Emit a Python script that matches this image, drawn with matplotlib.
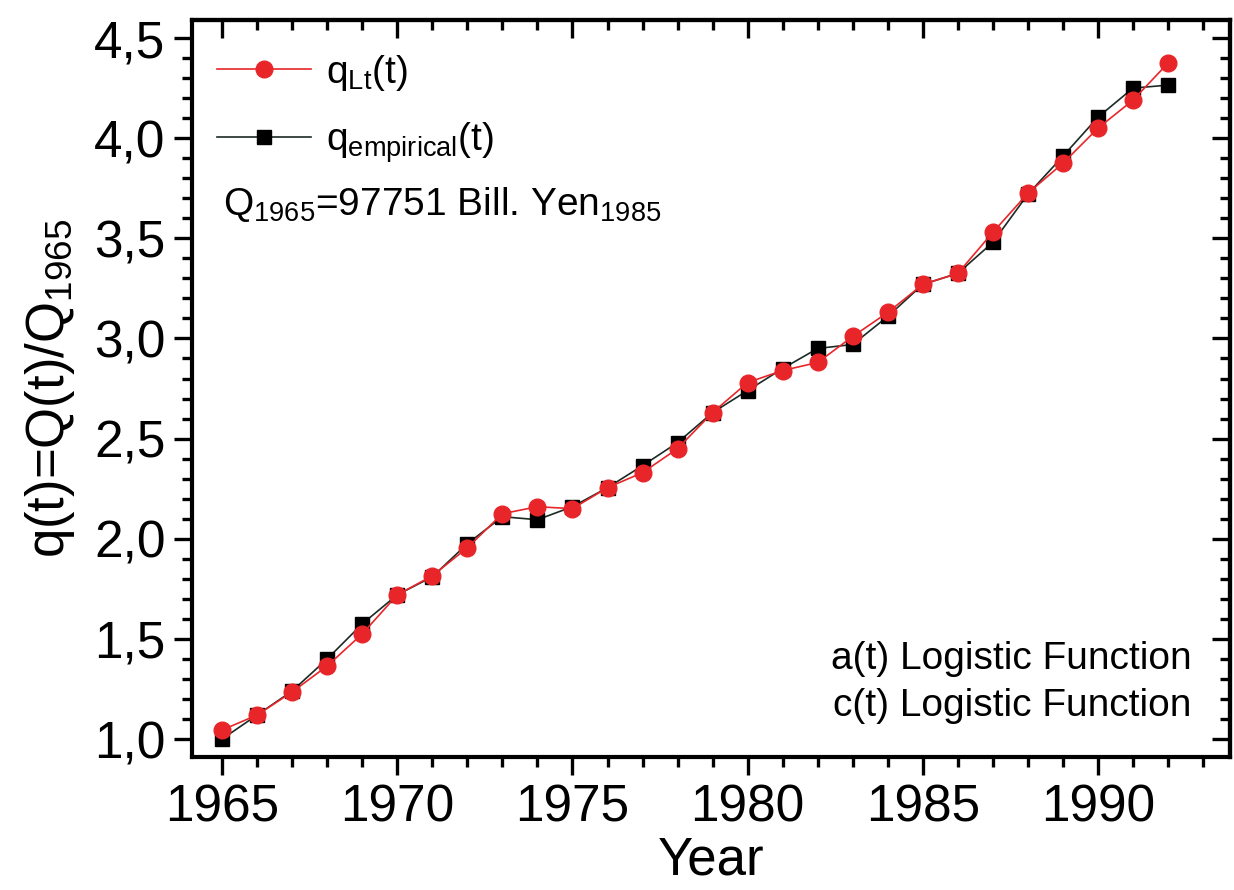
import numpy as np
import matplotlib
matplotlib.use("Agg")
from matplotlib import pyplot as plt
from matplotlib.ticker import MultipleLocator

plt.rcParams['font.family'] = ['Liberation Sans', 'DejaVu Sans']
plt.rcParams['mathtext.fontset'] = 'custom'
plt.rcParams['mathtext.rm'] = 'Liberation Sans'
plt.rcParams['mathtext.it'] = 'Liberation Sans'

# data
years = list(range(1965, 1993))
q_lt = [1.045, 1.12, 1.235, 1.365, 1.525, 1.72, 1.815, 1.955, 2.125, 2.16,
        2.15, 2.255, 2.33, 2.45, 2.63, 2.78, 2.84, 2.88, 3.01, 3.13,
        3.27, 3.325, 3.53, 3.725, 3.875, 4.05, 4.19, 4.375]
q_emp = [1.00, 1.12, 1.24, 1.40, 1.575, 1.72, 1.81, 1.975, 2.11, 2.095,
         2.16, 2.255, 2.365, 2.48, 2.63, 2.74, 2.85, 2.95, 2.97, 3.11,
         3.27, 3.325, 3.48, 3.72, 3.91, 4.105, 4.25, 4.265]
xticks = [1965, 1970, 1975, 1980, 1985, 1990]
yticks = [1.0, 1.5, 2.0, 2.5, 3.0, 3.5, 4.0, 4.5]
ytick_labels = ["1,0", "1,5", "2,0", "2,5", "3,0", "3,5", "4,0", "4,5"]

fig = plt.figure(figsize=(12.34, 8.9), dpi=100)
ax = fig.add_axes([0.1556, 0.1494, 0.8412, 0.8281])

ax.plot(years, q_emp, '-s', color='#1c2a24', lw=1.2, ms=9.5,
        mfc='black', mec='black', label=r'q$_{\mathrm{empirical}}$(t)', zorder=2)
ax.plot(years, q_lt, '-o', color='#e8262a', lw=1.2, ms=12,
        mfc='#e8262a', mec='#e8262a', label=r'q$_{\mathrm{Lt}}$(t)', zorder=3)

ax.set_xlim(1964.14, 1993.77)
ax.set_ylim(0.91, 4.59)
ax.set_xticks(xticks)
ax.set_xticklabels([str(x) for x in xticks])
ax.set_yticks(yticks)
ax.set_yticklabels(ytick_labels)
ax.xaxis.set_minor_locator(MultipleLocator(1))
ax.yaxis.set_minor_locator(MultipleLocator(0.1))

for s in ax.spines.values():
    s.set_linewidth(3)
ax.tick_params(which='both', labelsize=37, width=2.4, pad=6, direction='out')
ax.tick_params(which='major', length=13)
ax.tick_params(which='minor', length=7)

# top and right ticks point inwards
top = ax.secondary_xaxis('top')
top.set_xticks(xticks)
top.xaxis.set_minor_locator(MultipleLocator(1))
top.tick_params(which='both', direction='in', width=2.4, labeltop=False)
top.tick_params(which='major', length=13)
top.tick_params(which='minor', length=7)
right = ax.secondary_yaxis('right')
right.set_yticks(yticks)
right.yaxis.set_minor_locator(MultipleLocator(0.1))
right.tick_params(which='both', direction='in', width=2.4, labelright=False)
right.tick_params(which='major', length=13)
right.tick_params(which='minor', length=7)
for sec in (top, right):
    for s in sec.spines.values():
        s.set_linewidth(3)

ax.set_xlabel('Year', fontsize=38, labelpad=2)
ax.set_ylabel(r'q(t)=Q(t)/Q$_{\mathrm{1965}}$', fontsize=38, labelpad=12)

handles, labels = ax.get_legend_handles_labels()
ax.legend(handles[::-1], labels[::-1], loc='upper left', frameon=False,
          fontsize=28, handlelength=2.4, handletextpad=0.4,
          labelspacing=0.7, borderaxespad=0.25, bbox_to_anchor=(0.0, 0.99))

ax.text(0.03, 0.735, r'Q$_{\mathrm{1965}}$=97751 Bill. Yen$_{\mathrm{1985}}$',
        transform=ax.transAxes, fontsize=28)
ax.text(0.963, 0.045, 'a(t) Logistic Function\nc(t) Logistic Function',
        transform=ax.transAxes, fontsize=28, ha='right', va='bottom',
        linespacing=1.4)

fig.savefig('out.png', dpi=100)
